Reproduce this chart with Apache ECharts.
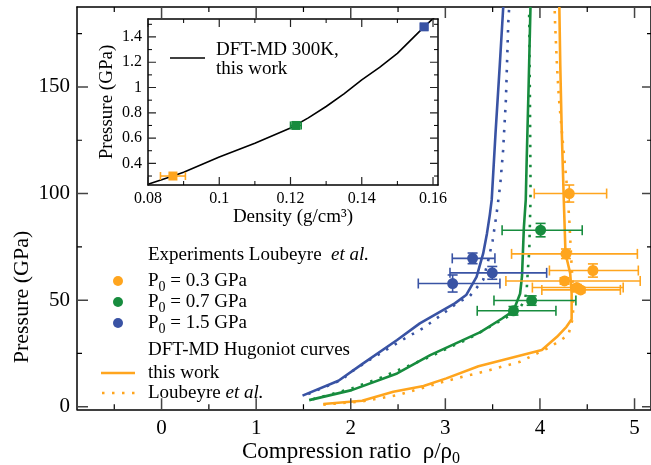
<!DOCTYPE html>
<html>
<head>
<meta charset="utf-8">
<script src="https://cdn.jsdelivr.net/npm/echarts@6/dist/echarts.min.js"></script>
<style>html,body{margin:0;padding:0;background:#fff;}#c{width:651px;height:465px;}</style>
</head>
<body>
<div id="c"></div>
<script>
// ---------- data ----------
const xMajorTicks = [0, 1, 2, 3, 4, 5];
const xMinorTicks = [-0.5, 0.5, 1.5, 2.5, 3.5, 4.5];
const yMajorTicks = [0, 50, 100, 150];
const yMinorTicks = [25, 75, 125, 175];
const insetXMajor = [0.08, 0.1, 0.12, 0.14, 0.16];
const insetXMinor = [0.09, 0.11, 0.13, 0.15];
const insetYMajor = [0.4, 0.6, 0.8, 1.0, 1.2, 1.4];
const insetYMinor = [0.3, 0.5, 0.7, 0.9, 1.1, 1.3, 1.5];

// DFT-MD Hugoniot, this work  [rho/rho0, P(GPa)]
const blueSolid = [[1.49,5.2],[1.87,12.2],[2.12,20],[2.49,31.3],[2.73,39.1],[3.10,48.5],[3.22,52.4],[3.33,60.9],[3.40,71.9],[3.44,81.3],[3.47,90],[3.49,97],[3.53,128],[3.575,160],[3.612,187.5]];
const greenSolid = [[1.56,3.1],[2.01,7.8],[2.49,15.6],[2.84,24.2],[3.37,35],[3.60,41.4],[3.72,45],[3.79,53],[3.81,61],[3.83,84],[3.85,97],[3.86,116],[3.88,150],[3.90,187.5]];
const orangeSolid = [[1.71,1.3],[2.12,2.8],[2.45,7],[2.77,9.7],[3.01,13.3],[3.35,19],[4.02,26.6],[4.18,32.8],[4.28,37.5],[4.335,41],[4.335,53],[4.32,62.5],[4.27,72],[4.25,100],[4.23,130],[4.215,160],[4.205,187.5]];
// Loubeyre et al. curves
const blueDotted = [[1.55,6],[1.9,12.5],[2.01,16.5],[2.2,22],[2.59,32.5],[2.77,37],[2.94,42.5],[3.12,48.5],[3.26,52],[3.40,59.5],[3.45,68],[3.50,78],[3.54,90],[3.58,104],[3.61,120],[3.64,144],[3.665,180],[3.675,187.5]];
const greenDotted = [[1.6,3.5],[2.01,8.6],[2.33,13.8],[2.52,17.5],[2.84,23.5],[3.05,28],[3.23,31.5],[3.45,37],[3.65,42],[3.76,44.5],[3.84,50],[3.86,55],[3.875,66],[3.887,73],[3.895,88],[3.90,97],[3.90,106],[3.894,144],[3.887,180],[3.885,187.5]];
const orangeDotted = [[1.71,1.0],[2.12,2.5],[2.5,5.5],[2.98,11.7],[3.21,14.4],[3.31,15.3],[3.79,21.1],[4.11,28.1],[4.30,33.6],[4.35,42],[4.35,55],[4.33,70],[4.31,88],[4.28,106],[4.24,125],[4.20,145],[4.18,160],[4.16,180],[4.155,187.5]];

// Experiments [x, y, xLow, xHigh, yLow, yHigh]
const orangeExp = [[4.31,100.0,3.94,4.705,96,104],[4.275,71.7,3.70,5.03,69.5,74],[4.56,63.9,4.10,5.04,60.8,67],[4.26,59.0,3.64,5.06,57.5,60.5],[4.39,55.9,3.92,4.88,54.5,57.3],[4.43,54.8,4.02,4.85,53.5,56]];
const greenExp = [[4.007,82.8,3.60,4.447,79.7,86],[3.912,49.8,3.514,4.38,47.6,52],[3.72,45.0,3.337,4.169,43,47]];
const blueExp = [[3.288,69.6,3.073,3.524,67.1,72.1],[3.496,62.8,3.049,4.071,59.8,65.8],[3.077,57.8,2.714,3.577,53.8,61.8]];

// Inset: DFT-MD 300K isotherm [density g/cm3, P GPa]
const isotherm = [[0.08,0.235],[0.087,0.3],[0.09,0.33],[0.1,0.45],[0.11,0.56],[0.12,0.68],[0.125,0.76],[0.13,0.85],[0.135,0.95],[0.14,1.06],[0.145,1.16],[0.15,1.27],[0.1575,1.48],[0.16,1.545],[0.162,1.6]];
const insetOrange = [[0.087,0.3,0.0835,0.0905,0.285,0.315]];
const insetGreen = [[0.1215,0.7,0.1200,0.1230,0.688,0.712]];
const insetBlue = [[0.1575,1.48,0.1565,0.1585,1.47,1.49]];

// ---------- styles ----------
const ORANGE = '#FFA51E', GREEN = '#178C3E', BLUE = '#3953A4';
const FONT = 'Liberation Serif';

const XMIN = -0.894, XMAX = 5.174, YMIN = -1.2, YMAX = 187.5;
const IXMIN = 0.08, IXMAX = 0.1614, IYMIN = 0.229, IYMAX = 1.542;
const MAIN_W = 574, MAIN_H = 402.3, INSET_W = 290, INSET_H = 166;

function axis(grid, pos, labels, min, max, fs, margin, fmt) {
  const a = {
    type: 'value', gridIndex: grid, position: pos, min: min, max: max,
    axisLine: {show: true, onZero: false, lineStyle: {color: '#000', width: 1.5}},
    axisTick: {show: false},
    axisLabel: {show: false},
    splitLine: {show: false}
  };
  if (labels) {
    a.axisLabel = {show: true, customValues: labels, fontFamily: FONT, fontSize: fs, color: '#000', margin: margin};
    if (fmt) a.axisLabel.formatter = fmt;
  }
  return a;
}
const xAxes = [
  axis(0, 'bottom', xMajorTicks, XMIN, XMAX, 21, 9),
  axis(0, 'top', null, XMIN, XMAX),
  axis(1, 'bottom', insetXMajor, IXMIN, IXMAX, 16, 6, v => String(Math.round(v * 100) / 100)),
  axis(1, 'top', null, IXMIN, IXMAX)
];
const yAxes = [
  axis(0, 'left', yMajorTicks, YMIN, YMAX, 21, 7),
  axis(0, 'right', null, YMIN, YMAX),
  axis(1, 'left', insetYMajor, IYMIN, IYMAX, 16, 6, v => String(Math.round(v * 10) / 10)),
  axis(1, 'right', null, IYMIN, IYMAX)
];

function lineSeries(data, color, dotted, xi, yi, width) {
  return {
    type: 'line', data: data, xAxisIndex: xi, yAxisIndex: yi, showSymbol: false, symbol: 'none',
    lineStyle: {color: color, width: width || 2.6, type: dotted ? [2.5, 7.5] : 'solid', cap: 'butt'},
    z: 2
  };
}
function errSeries(data, color, xi, yi, cap, lw) {
  return {
    type: 'custom', xAxisIndex: xi, yAxisIndex: yi, data: data, z: 3,
    renderItem: function (params, api) {
      const x = api.value(0), y = api.value(1);
      const pL = api.coord([api.value(2), y]), pR = api.coord([api.value(3), y]);
      const pB = api.coord([x, api.value(4)]), pT = api.coord([x, api.value(5)]);
      const st = {stroke: color, lineWidth: lw, fill: null};
      return {type: 'group', children: [
        {type: 'line', shape: {x1: pL[0], y1: pL[1], x2: pR[0], y2: pR[1]}, style: st},
        {type: 'line', shape: {x1: pL[0], y1: pL[1] - cap, x2: pL[0], y2: pL[1] + cap}, style: st},
        {type: 'line', shape: {x1: pR[0], y1: pR[1] - cap, x2: pR[0], y2: pR[1] + cap}, style: st},
        {type: 'line', shape: {x1: pB[0], y1: pB[1], x2: pT[0], y2: pT[1]}, style: st},
        {type: 'line', shape: {x1: pB[0] - cap, y1: pB[1], x2: pB[0] + cap, y2: pB[1]}, style: st},
        {type: 'line', shape: {x1: pT[0] - cap, y1: pT[1], x2: pT[0] + cap, y2: pT[1]}, style: st}
      ]};
    }
  };
}
function pointSeries(data, color, xi, yi, symbol, size) {
  return {
    type: 'scatter', xAxisIndex: xi, yAxisIndex: yi, data: data.map(d => [d[0], d[1]]),
    symbol: symbol, symbolSize: size, itemStyle: {color: color, opacity: 1}, z: 4
  };
}

// ---------- axis ticks: short two-point line series placed on the axes' scales ----------
function tickLines(values, side, lenPx, color, w, xi, yi, ext, wPx, hPx) {
  const dx = lenPx * (ext[1] - ext[0]) / wPx, dy = lenPx * (ext[3] - ext[2]) / hPx;
  return values.map(v => {
    let seg;
    if (side === 'bottom') seg = [[v, ext[2]], [v, ext[2] + dy]];
    else if (side === 'top') seg = [[v, ext[3]], [v, ext[3] - dy]];
    else if (side === 'left') seg = [[ext[0], v], [ext[0] + dx, v]];
    else seg = [[ext[1], v], [ext[1] - dx, v]];
    return {type: 'line', data: seg, xAxisIndex: xi, yAxisIndex: yi, showSymbol: false, symbol: 'none',
      lineStyle: {color: color, width: w, type: 'solid', cap: 'butt'}, z: 5, silent: true};
  });
}
const mainExt = [XMIN, XMAX, YMIN, YMAX], insetExt = [IXMIN, IXMAX, IYMIN, IYMAX];
const tickSeries = [];
[['bottom', xMajorTicks, xMinorTicks], ['top', xMajorTicks, xMinorTicks], ['left', yMajorTicks, yMinorTicks], ['right', yMajorTicks, yMinorTicks]].forEach(([side, maj, mnr]) => {
  tickSeries.push(...tickLines(maj, side, side === 'right' ? 9 : 11, '#444', 1.5, 0, 0, mainExt, MAIN_W, MAIN_H));
  tickSeries.push(...tickLines(mnr, side, side === 'right' ? 4 : 5, '#000', 1.2, 0, 0, mainExt, MAIN_W, MAIN_H));
});
[['bottom', insetXMajor, insetXMinor], ['top', insetXMajor, insetXMinor], ['left', insetYMajor, insetYMinor], ['right', insetYMajor, insetYMinor]].forEach(([side, maj, mnr]) => {
  tickSeries.push(...tickLines(maj, side, 8, '#222', 1.2, 2, 2, insetExt, INSET_W, INSET_H));
  tickSeries.push(...tickLines(mnr, side, 4, '#000', 1, 2, 2, insetExt, INSET_W, INSET_H));
});

const series = [
  lineSeries(orangeDotted, ORANGE, true, 0, 0),
  lineSeries(greenDotted, GREEN, true, 0, 0),
  lineSeries(blueDotted, BLUE, true, 0, 0),
  lineSeries(orangeSolid, ORANGE, false, 0, 0),
  lineSeries(greenSolid, GREEN, false, 0, 0),
  lineSeries(blueSolid, BLUE, false, 0, 0),
  errSeries(orangeExp, ORANGE, 0, 0, 5, 1.6),
  errSeries(greenExp, GREEN, 0, 0, 5, 1.6),
  errSeries(blueExp, BLUE, 0, 0, 5, 1.6),
  pointSeries(orangeExp, ORANGE, 0, 0, 'circle', 11),
  pointSeries(greenExp, GREEN, 0, 0, 'circle', 11),
  pointSeries(blueExp, BLUE, 0, 0, 'circle', 11),
  lineSeries(isotherm, '#000', false, 2, 2, 1.6),
  errSeries(insetOrange, ORANGE, 2, 2, 4, 1.6),
  errSeries(insetGreen, GREEN, 2, 2, 4, 1.6),
  errSeries(insetBlue, BLUE, 2, 2, 4, 1.6),
  pointSeries(insetOrange, ORANGE, 2, 2, 'rect', 9),
  pointSeries(insetGreen, GREEN, 2, 2, 'rect', 9),
  pointSeries(insetBlue, BLUE, 2, 2, 'rect', 9)
].concat(tickSeries);

const subRich = {
  a: {fontFamily: FONT, fontSize: 19, color: '#000', lineHeight: 26, verticalAlign: 'middle'},
  s: {fontFamily: FONT, fontSize: 14, color: '#000', lineHeight: 16, verticalAlign: 'bottom'},
  i: {fontFamily: FONT, fontSize: 19, fontStyle: 'italic', color: '#000', lineHeight: 26}
};
function txt(x, y, text, fs) {
  return {type: 'text', x: x, y: y, z: 100, silent: true,
    style: {text: text, fontFamily: FONT, fontSize: fs, fill: '#000', align: 'left', verticalAlign: 'middle', rich: subRich}};
}
const legendItems = [
  {label: '{a|P}{s|0}{a| = 0.3 GPa}', color: ORANGE, y: 281},
  {label: '{a|P}{s|0}{a| = 0.7 GPa}', color: GREEN, y: 302},
  {label: '{a|P}{s|0}{a| = 1.5 GPa}', color: BLUE, y: 323}
];
const graphics = [
  txt(148, 255, 'Experiments Loubeyre  {i|et al.}', 19),
  txt(148, 350, 'DFT-MD Hugoniot curves', 19),
  {type: 'line', z: 100, silent: true, shape: {x1: 101, y1: 373, x2: 135, y2: 373}, style: {stroke: ORANGE, lineWidth: 2.6}},
  txt(148, 373, 'this work', 19),
  {type: 'line', z: 100, silent: true, shape: {x1: 102, y1: 393, x2: 136, y2: 393}, style: {stroke: ORANGE, lineWidth: 2.6, lineDash: [2.5, 7.5]}},
  txt(148, 393, 'Loubeyre {i|et al.}', 19),
  {type: 'text', x: 22, y: 297, z: 100, rotation: Math.PI / 2, silent: true, style: {text: 'Pressure (GPa)', fontFamily: FONT, fontSize: 22, fill: '#000', align: 'center', verticalAlign: 'middle'}},
  {type: 'text', x: 351, y: 452, z: 100, silent: true, style: {text: '{b|Compression ratio  ρ/ρ}{c|0}', align: 'center', verticalAlign: 'middle',
    rich: {b: {fontFamily: FONT, fontSize: 23, color: '#000', lineHeight: 30, verticalAlign: 'middle'}, c: {fontFamily: FONT, fontSize: 16, color: '#000', lineHeight: 18, verticalAlign: 'bottom'}}}},
  {type: 'text', x: 107, y: 102, z: 100, rotation: Math.PI / 2, silent: true, style: {text: 'Pressure (GPa)', fontFamily: FONT, fontSize: 19, fill: '#000', align: 'center', verticalAlign: 'middle'}},
  {type: 'text', x: 293, y: 217, z: 100, silent: true, style: {text: 'Density (g/cm³)', fontFamily: FONT, fontSize: 19, fill: '#000', align: 'center', verticalAlign: 'middle'}},
  {type: 'line', z: 100, silent: true, shape: {x1: 170, y1: 58, x2: 205, y2: 58}, style: {stroke: '#000', lineWidth: 1.6}},
  {type: 'text', x: 216, y: 50, z: 100, silent: true, style: {text: 'DFT-MD 300K,', fontFamily: FONT, fontSize: 19, fill: '#000', align: 'left', verticalAlign: 'middle'}},
  {type: 'text', x: 216, y: 69, z: 100, silent: true, style: {text: 'this work', fontFamily: FONT, fontSize: 19, fill: '#000', align: 'left', verticalAlign: 'middle'}}
];
legendItems.forEach(it => {
  graphics.push({type: 'circle', z: 100, silent: true, shape: {cx: 118, cy: it.y, r: 5}, style: {fill: it.color}});
  graphics.push(txt(148, it.y, it.label, 19));
});

const chart = echarts.init(document.getElementById('c'), null, {renderer: 'canvas'});
chart.setOption({
  animation: false,
  backgroundColor: '#fff',
  grid: [
    {left: 77, top: 7, width: MAIN_W, height: MAIN_H},
    {left: 148, top: 19, width: INSET_W, height: INSET_H, show: true, backgroundColor: '#fff', borderWidth: 0}
  ],
  xAxis: xAxes,
  yAxis: yAxes,
  series: series,
  graphic: graphics
});
</script>
</body>
</html>
